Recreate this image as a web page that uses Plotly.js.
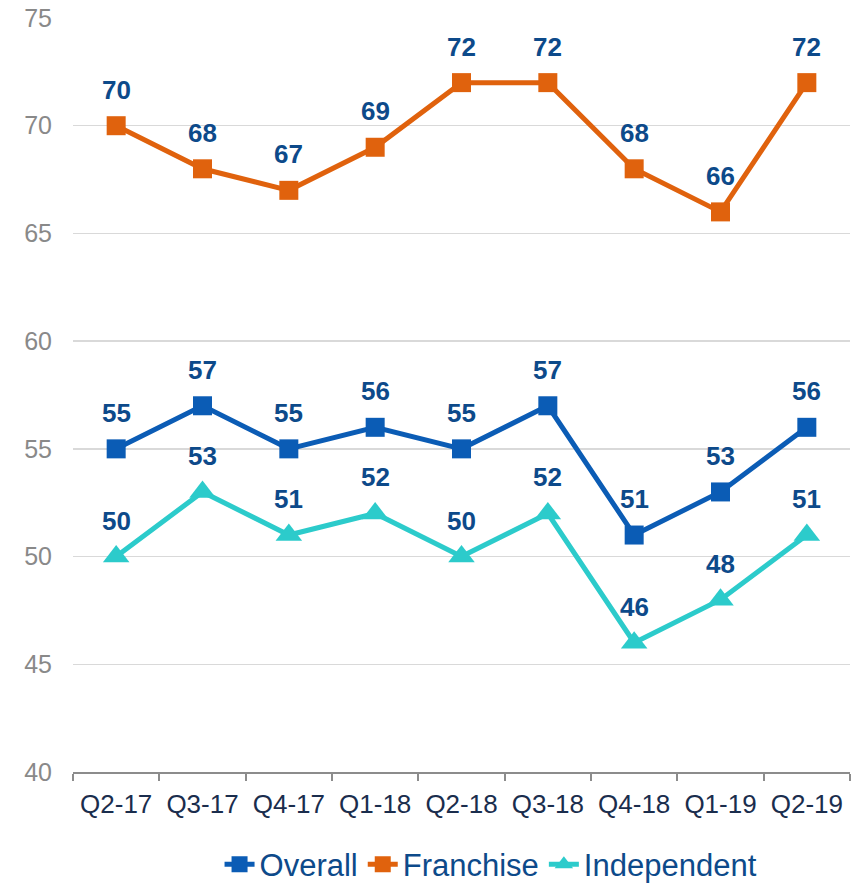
<!DOCTYPE html>
<html>
<head>
<meta charset="utf-8">
<script src="https://cdn.plot.ly/plotly-3.0.1.min.js"></script>
<style>html,body{margin:0;padding:0;background:#fff;}#chart{width:854px;height:885px;}</style>
</head>
<body>
<div id="chart"></div>
<script>
const categories = ["Q2-17","Q3-17","Q4-17","Q1-18","Q2-18","Q3-18","Q4-18","Q1-19","Q2-19"];
const overall = [55,57,55,56,55,57,51,53,56];
const franchise = [70,68,67,69,72,72,68,66,72];
const independent = [50,53,51,52,50,52,46,48,51];

const labelFont = {family: "Liberation Sans, Arial, sans-serif", size: 26, color: "#0d4a8a", weight: "bold"};

function series(name, y, color, symbol, size) {
  return {
    type: "scatter",
    mode: "lines+markers",
    name: name,
    x: categories,
    y: y,
    line: {color: color, width: 5},
    marker: {color: color, symbol: symbol, size: size},
    cliponaxis: false
  };
}

const data = [
  series("Overall", overall, "#0b5cb5", "square", 19),
  series("Franchise", franchise, "#e0620d", "square", 19),
  series("Independent", independent, "#2ccbcb", "triangle-up", 23)
];

const annotations = [];
[overall, franchise, independent].forEach(function (vals) {
  vals.forEach(function (v, i) {
    annotations.push({
      x: categories[i], y: v, xref: "x", yref: "y",
      text: String(v), showarrow: false,
      yanchor: "bottom", yshift: 19,
      font: labelFont
    });
  });
});

const layout = {
  width: 854, height: 885,
  margin: {l: 73, r: 4, t: 18, b: 113},
  paper_bgcolor: "#fff", plot_bgcolor: "#fff",
  font: {family: "Liberation Sans, Arial, sans-serif"},
  showlegend: true,
  annotations: annotations,
  legend: {orientation: "h", x: 0.575, xanchor: "center", xref: "container",
           y: 0.023, yanchor: "middle", yref: "container",
           font: {size: 31, color: "#0d4a8a"}, itemwidth: 30, tracegroupgap: 0},
  xaxis: {
    type: "category", range: [-0.5, 8.5], automargin: false,
    showline: true, linecolor: "#8c8c8c", linewidth: 2,
    ticks: "outside", tickson: "boundaries", ticklen: 7, tickcolor: "#8c8c8c", tickwidth: 2,
    showgrid: false, zeroline: false, ticklabelstandoff: 8,
    tickfont: {size: 26, color: "#1a2d4d"}
  },
  yaxis: {
    range: [40, 75], dtick: 5, tick0: 40, automargin: false,
    showgrid: true, gridcolor: "#d9d9d9", gridwidth: 1.5,
    zeroline: false, showline: false, ticks: "",
    ticklabelstandoff: 20,
    tickfont: {size: 25, color: "#898989"}
  }
};

Plotly.newPlot("chart", data, layout, {displayModeBar: false, staticPlot: true});
</script>
</body>
</html>
